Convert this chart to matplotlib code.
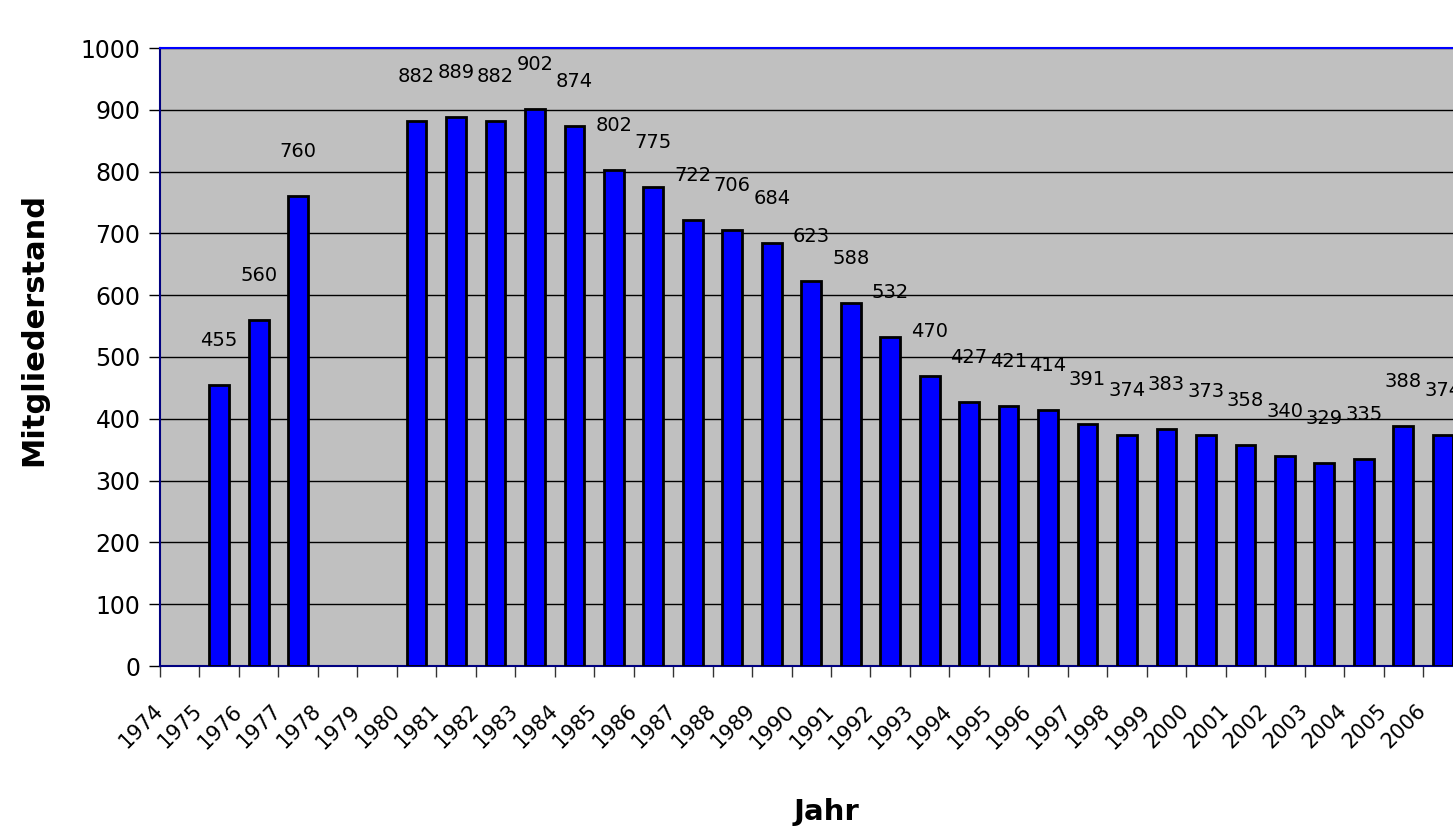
import numpy as np
import matplotlib
matplotlib.use("Agg")
import matplotlib.pyplot as plt

plt.rcParams['font.family'] = ['DejaVu Sans']

tick_years = list(range(1974, 2007))
years = [1975, 1976, 1977] + list(range(1980, 2007))
members = [455, 560, 760,
           882, 889, 882, 902, 874, 802, 775, 722, 706, 684, 623, 588, 532,
           470, 427, 421, 414, 391, 374, 383, 373, 358, 340, 329, 335, 388, 374]

fig = plt.figure(figsize=(14.53, 8.32), dpi=100)
ax = fig.add_axes([160 / 1453, (832 - 666) / 832, (1453 - 160) / 1453, (666 - 48) / 832])
ax.set_facecolor('#C0C0C0')

pos = [y - tick_years[0] + 0.5 for y in years]
ax.bar(pos, members, width=0.5, color='#0000FF', edgecolor='black', linewidth=2, zorder=3)

for x, v in zip(pos, members):
    ax.annotate(str(v), (x, v), xytext=(0, 32), textcoords='offset points',
                ha='center', va='center', fontsize=14, zorder=4)

ax.set_ylim(0, 1000)
ax.set_xlim(0, 32.76)
ax.set_yticks(range(0, 1001, 100))
ax.yaxis.grid(True, color='black', linewidth=1)
ax.set_axisbelow(True)

ax.set_xticks(range(len(tick_years)))
ax.set_xticklabels([str(y) for y in tick_years], rotation=45, ha='right',
                   va='center', rotation_mode='anchor', fontsize=15)
ax.tick_params(axis='x', length=8, width=1, pad=22, color='#333333')
ax.tick_params(axis='y', length=8, width=1, labelsize=17, pad=6)

for s in ['left', 'bottom']:
    ax.spines[s].set_color('#000080')
    ax.spines[s].set_linewidth(1.5)
ax.spines['top'].set_color('#0000FF')
ax.spines['top'].set_linewidth(1.5)
ax.spines['right'].set_visible(False)

ax.set_ylabel('Mitgliederstand', fontsize=22, fontweight='bold')
ax.set_xlabel('Jahr', fontsize=21, fontweight='bold', va='top')
ax.yaxis.set_label_coords(-112 / 1293, (666 - 330) / 618)
ax.xaxis.set_label_coords((826 - 160) / 1293, -(798 - 666) / 618)

fig.savefig('out.png', dpi=100)
